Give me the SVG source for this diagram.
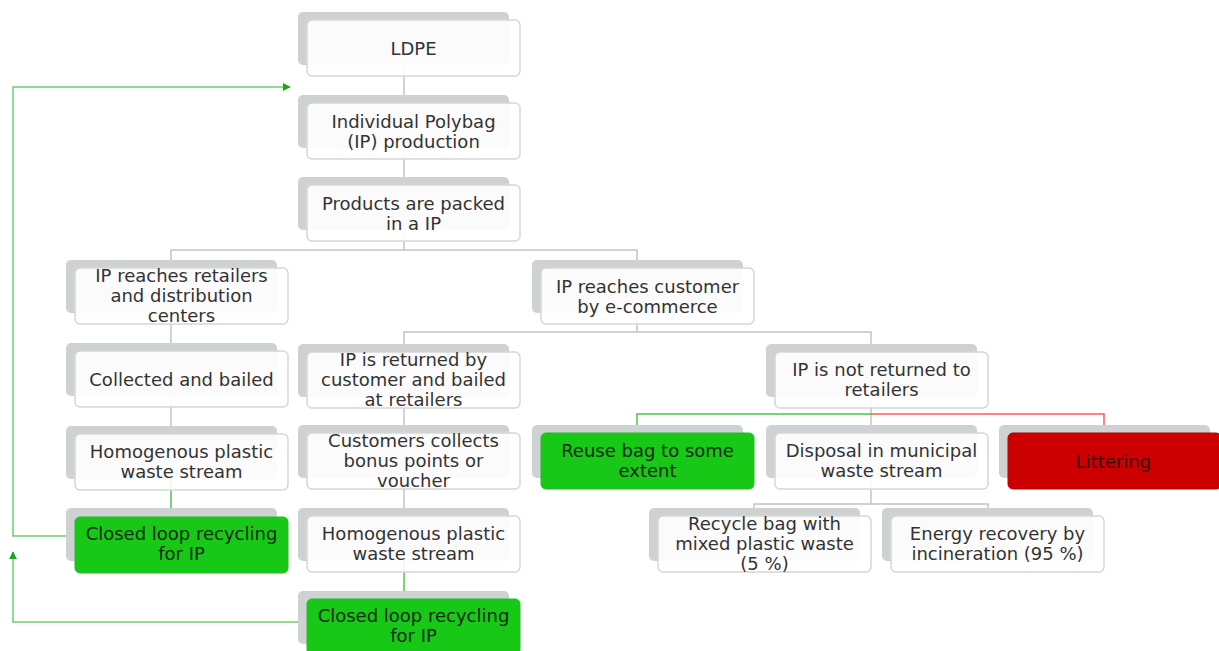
<svg xmlns="http://www.w3.org/2000/svg" width="1219" height="651" viewBox="0 0 1219 651">
<style>
.sh{fill:#cfd2d3}
.fr{fill:#ffffff;fill-opacity:0.9;stroke:#d6d6d6;stroke-width:1.5}
.gr{fill:#17c817;stroke:#2bb82b;stroke-width:1}
.rd{fill:#cc0000;stroke:#b80000;stroke-width:1}
text{font-family:"DejaVu Sans","Verdana",sans-serif;font-size:18px;fill:#333;text-anchor:middle}
.tg{fill:#0f2a0f}
.tr{fill:#3a0000}
.c{fill:none;stroke:#c4c4c4;stroke-width:1.5}
.cg{fill:none;stroke:#4cc44c;stroke-width:1.5}
.cf{fill:none;stroke:#6dd06d;stroke-width:1.5}
.cr{fill:none;stroke:#ff5a5a;stroke-width:1.5}
</style>
<defs>
<marker id="ag" viewBox="0 0 10 10" refX="9" refY="5" markerWidth="8" markerHeight="8" markerUnits="userSpaceOnUse" orient="auto">
<path d="M0,0 L10,5 L0,10 z" fill="#1ea51e"/>
</marker>
</defs>
<g id="connectors">
<path class="c" d="M404,65 V95"/>
<path class="c" d="M404,148 V177"/>
<path class="c" d="M404,230 V250 M171,260 V250 H637 V260"/>
<path class="c" d="M171,313 V343"/>
<path class="c" d="M171,396 V426"/>
<path class="cg" d="M171,479 V509"/>
<path class="c" d="M637,313 V332 M404,344 V332 H871 V344"/>
<path class="c" d="M404,397 V425"/>
<path class="c" d="M404,478 V508"/>
<path class="cg" d="M404,561 V591"/>
<path class="c" d="M871,397 V425"/>
<path class="cg" d="M871,414 H637 V425"/>
<path class="cr" d="M871,414 H1104 V425"/>
<path class="c" d="M871,478 V504 M754,508 V504 H988 V508"/>
<path class="cf" d="M66,536 H13 V87 H290" marker-end="url(#ag)"/>
<path class="cf" d="M298,622 H13 V552" marker-end="url(#ag)"/>
</g>
<g id="ldpe"><rect class="sh" x="298" y="12" width="211" height="53" rx="5"/><rect class="fr" x="307" y="20" width="213" height="56" rx="5"/><text x="413.5" y="54.5">LDPE</text></g>
<g id="ip-production"><rect class="sh" x="298" y="95" width="211" height="53" rx="5"/><rect class="fr" x="307" y="103" width="213" height="56" rx="5"/><text x="413.5" y="127.5">Individual Polybag</text><text x="413.5" y="147.5">(IP) production</text></g>
<g id="products-packed"><rect class="sh" x="298" y="177" width="211" height="53" rx="5"/><rect class="fr" x="307" y="185" width="213" height="56" rx="5"/><text x="413.5" y="209.5">Products are packed</text><text x="413.5" y="229.5">in a IP</text></g>
<g id="reaches-retailers"><rect class="sh" x="66" y="260" width="211" height="53" rx="5"/><rect class="fr" x="75" y="268" width="213" height="56" rx="5"/><text x="181.5" y="282">IP reaches retailers</text><text x="181.5" y="302">and distribution</text><text x="181.5" y="322">centers</text></g>
<g id="reaches-customer"><rect class="sh" x="532" y="260" width="211" height="53" rx="5"/><rect class="fr" x="541" y="268" width="213" height="56" rx="5"/><text x="647.5" y="292.5">IP reaches customer</text><text x="647.5" y="312.5">by e-commerce</text></g>
<g id="collected-bailed"><rect class="sh" x="66" y="343" width="211" height="53" rx="5"/><rect class="fr" x="75" y="351" width="213" height="56" rx="5"/><text x="181.5" y="385.5">Collected and bailed</text></g>
<g id="returned-bailed"><rect class="sh" x="298" y="344" width="211" height="53" rx="5"/><rect class="fr" x="307" y="352" width="213" height="56" rx="5"/><text x="413.5" y="366">IP is returned by</text><text x="413.5" y="386">customer and bailed</text><text x="413.5" y="406">at retailers</text></g>
<g id="not-returned"><rect class="sh" x="766" y="344" width="211" height="53" rx="5"/><rect class="fr" x="775" y="352" width="213" height="56" rx="5"/><text x="881.5" y="376">IP is not returned to</text><text x="881.5" y="396">retailers</text></g>
<g id="homog-a"><rect class="sh" x="66" y="426" width="211" height="53" rx="5"/><rect class="fr" x="75" y="434" width="213" height="56" rx="5"/><text x="181.5" y="458">Homogenous plastic</text><text x="181.5" y="478">waste stream</text></g>
<g id="bonus-points"><rect class="sh" x="298" y="425" width="211" height="53" rx="5"/><rect class="fr" x="307" y="433" width="213" height="56" rx="5"/><text x="413.5" y="447">Customers collects</text><text x="413.5" y="467">bonus points or</text><text x="413.5" y="487">voucher</text></g>
<g id="reuse-bag"><rect class="sh" x="532" y="425" width="211" height="53" rx="5"/><rect class="gr" x="541" y="433" width="213" height="56" rx="5"/><text class="tg" x="647.5" y="457">Reuse bag to some</text><text class="tg" x="647.5" y="477">extent</text></g>
<g id="disposal"><rect class="sh" x="766" y="425" width="211" height="53" rx="5"/><rect class="fr" x="775" y="433" width="213" height="56" rx="5"/><text x="881.5" y="457">Disposal in municipal</text><text x="881.5" y="477">waste stream</text></g>
<g id="littering"><rect class="sh" x="999" y="425" width="211" height="53" rx="5"/><rect class="rd" x="1008" y="433" width="213" height="56" rx="5"/><text class="tr" x="1113.5" y="467.5">Littering</text></g>
<g id="closed-loop-a"><rect class="sh" x="66" y="508" width="211" height="53" rx="5"/><rect class="gr" x="75" y="517" width="213" height="56" rx="5"/><text class="tg" x="181.5" y="540">Closed loop recycling</text><text class="tg" x="181.5" y="560">for IP</text></g>
<g id="homog-b"><rect class="sh" x="298" y="508" width="211" height="53" rx="5"/><rect class="fr" x="307" y="516" width="213" height="56" rx="5"/><text x="413.5" y="540">Homogenous plastic</text><text x="413.5" y="560">waste stream</text></g>
<g id="recycle-mixed"><rect class="sh" x="649" y="508" width="211" height="53" rx="5"/><rect class="fr" x="658" y="516" width="213" height="56" rx="5"/><text x="764.5" y="530">Recycle bag with</text><text x="764.5" y="550">mixed plastic waste</text><text x="764.5" y="570">(5 %)</text></g>
<g id="energy-recovery"><rect class="sh" x="882" y="508" width="211" height="53" rx="5"/><rect class="fr" x="891" y="516" width="213" height="56" rx="5"/><text x="997.5" y="540">Energy recovery by</text><text x="997.5" y="560">incineration (95 %)</text></g>
<g id="closed-loop-b"><rect class="sh" x="298" y="591" width="211" height="53" rx="5"/><rect class="gr" x="307" y="599" width="213" height="56" rx="5"/><text class="tg" x="413.5" y="622">Closed loop recycling</text><text class="tg" x="413.5" y="642">for IP</text></g>
</svg>
